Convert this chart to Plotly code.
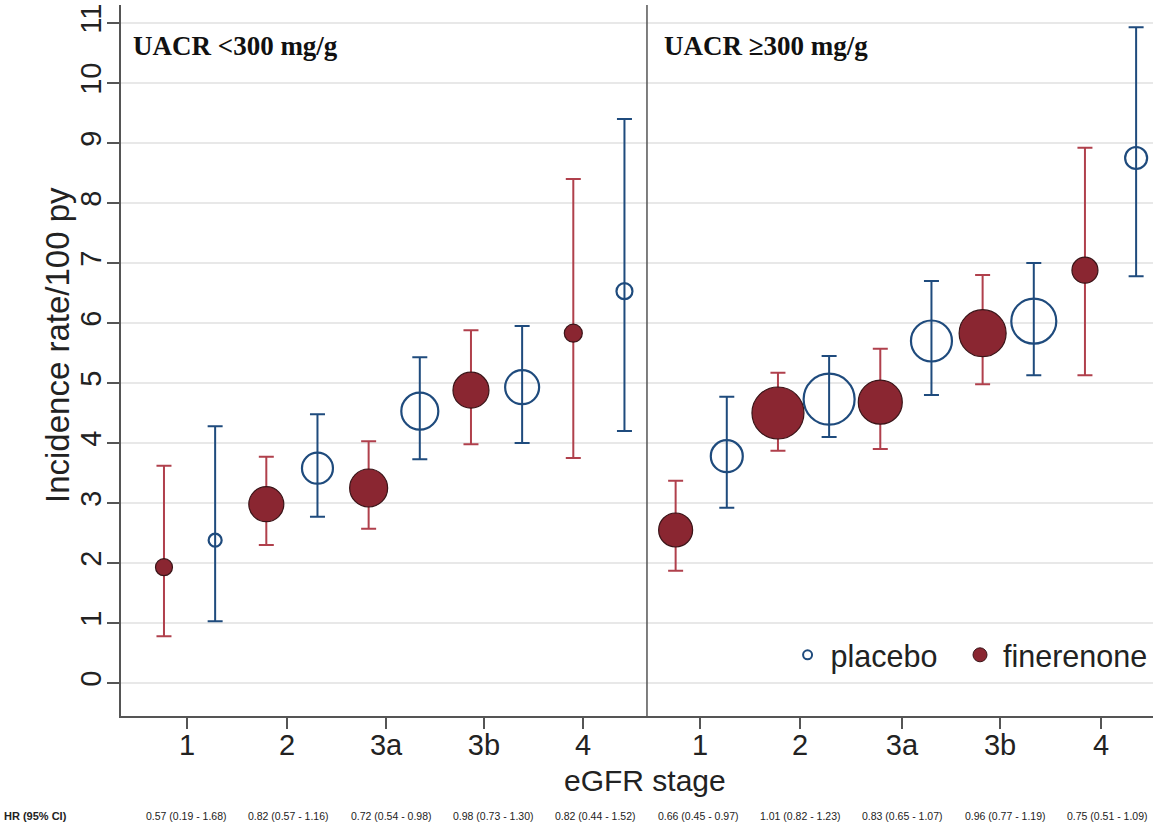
import plotly.graph_objects as go

# ---------------- data ----------------
stages = ["1", "2", "3a", "3b", "4"]
panel_titles = ["UACR <300 mg/g", "UACR \u2265300 mg/g"]

# 10 groups: 5 eGFR stages for UACR<300, then 5 for UACR>=300
fin_rate = [1.93, 2.98, 3.25, 4.88, 5.83, 2.55, 4.50, 4.68, 5.83, 6.88]
fin_lo   = [0.78, 2.30, 2.57, 3.98, 3.75, 1.87, 3.87, 3.90, 4.98, 5.13]
fin_hi   = [3.62, 3.77, 4.03, 5.88, 8.40, 3.37, 5.17, 5.57, 6.80, 8.92]
fin_size = [18, 36, 39, 37, 19, 35, 53, 45, 48, 27]

pla_rate = [2.38, 3.58, 4.53, 4.93, 6.53, 3.78, 4.73, 5.70, 6.03, 8.75]
pla_lo   = [1.03, 2.77, 3.73, 4.00, 4.20, 2.92, 4.10, 4.80, 5.13, 6.78]
pla_hi   = [4.28, 4.48, 5.43, 5.95, 9.40, 4.77, 5.45, 6.70, 7.00, 10.93]
pla_size = [15, 33, 39, 36, 18, 34, 53, 43, 47, 24]

hr_text = ["0.57 (0.19 - 1.68)", "0.82 (0.57 - 1.16)", "0.72 (0.54 - 0.98)",
           "0.98 (0.73 - 1.30)", "0.82 (0.44 - 1.52)", "0.66 (0.45 - 0.97)",
           "1.01 (0.82 - 1.23)", "0.83 (0.65 - 1.07)", "0.96 (0.77 - 1.19)",
           "0.75 (0.51 - 1.09)"]

y_ticks = list(range(0, 12))

# ---------------- layout constants ----------------
groups = list(range(1, len(fin_rate) + 1))
OFF = 0.25
tick_pos = [0.975, 1.952, 2.920, 3.877, 4.845, 5.988, 6.965, 7.962, 8.920, 9.907]
divider_x = 5.47

FIN_FILL = "#8A2631"
FIN_EDGE = "#3A1418"
FIN_BAR = "#B0404C"
PLA_COL = "#1F4B7D"
AXIS_COL = "#555555"
SANS = "Arial, Liberation Sans, sans-serif"
SERIF = "Times New Roman, Liberation Serif, serif"

fig = go.Figure()

# placebo
fig.add_trace(go.Scatter(
    x=[g + OFF for g in groups], y=pla_rate, mode="markers", showlegend=False,
    marker=dict(symbol="circle-open", size=[s - 2 for s in pla_size], opacity=1,
                color=PLA_COL, line=dict(width=2.2, color=PLA_COL)),
    error_y=dict(type="data", symmetric=False,
                 array=[h - r for h, r in zip(pla_hi, pla_rate)],
                 arrayminus=[r - l for r, l in zip(pla_rate, pla_lo)],
                 color=PLA_COL, thickness=2, width=7.5),
))
# finerenone
fig.add_trace(go.Scatter(
    x=[g - OFF for g in groups], y=fin_rate, mode="markers", showlegend=False,
    marker=dict(symbol="circle", size=[s - 1 for s in fin_size], opacity=1,
                color=FIN_FILL, line=dict(width=1.2, color=FIN_EDGE)),
    error_y=dict(type="data", symmetric=False,
                 array=[h - r for h, r in zip(fin_hi, fin_rate)],
                 arrayminus=[r - l for r, l in zip(fin_rate, fin_lo)],
                 color=FIN_BAR, thickness=2, width=7.5),
))

# legend entries (two independent legends)
fig.add_trace(go.Scatter(x=[None], y=[None], mode="markers", name="placebo",
                         legend="legend",
                         marker=dict(symbol="circle-open", size=9, color=PLA_COL,
                                     line=dict(width=2, color=PLA_COL))))
fig.add_trace(go.Scatter(x=[None], y=[None], mode="markers", name="finerenone",
                         legend="legend2",
                         marker=dict(symbol="circle", size=14, color=FIN_FILL,
                                     line=dict(width=1, color=FIN_EDGE))))

# panel divider
fig.add_shape(type="line", xref="x", yref="paper", x0=divider_x, x1=divider_x,
              y0=0, y1=1, line=dict(color=AXIS_COL, width=1.5))

# panel titles
for xp, t in zip([0.0098, 0.524], panel_titles):
    fig.add_annotation(text="<b>" + t + "</b>", xref="paper", yref="paper",
                       x=xp, y=0.942, xanchor="left", yanchor="middle",
                       showarrow=False, font=dict(family=SERIF, size=27, color="#111"))

# axis titles
fig.add_annotation(text="Incidence rate/100 py", xref="paper", yref="paper",
                   x=(57 - 121) / 1032, y=(716 - 345) / 711, xanchor="center",
                   yanchor="middle", textangle=-90, showarrow=False,
                   font=dict(family=SANS, size=33, color="#222"))
fig.add_annotation(text="eGFR stage", xref="paper", yref="paper",
                   x=(645 - 121) / 1032, y=(716 - 780) / 711, xanchor="center",
                   yanchor="middle", showarrow=False,
                   font=dict(family=SANS, size=30, color="#222"))

# HR row
fig.add_annotation(text="<b>HR (95% CI)</b>", xref="paper", yref="paper",
                   x=(2 - 121) / 1032, y=(716 - 816) / 711, xanchor="left",
                   yanchor="middle", showarrow=False,
                   font=dict(family=SANS, size=11, color="#222"))
for g, t in zip(groups, hr_text):
    fig.add_annotation(text=t, xref="x", yref="paper", x=g - 0.03,
                       y=(716 - 816) / 711, xanchor="center", yanchor="middle",
                       showarrow=False, font=dict(family=SANS, size=10.5, color="#222"))

legend_common = dict(orientation="h", yanchor="middle",
                     bgcolor="rgba(0,0,0,0)", font=dict(size=30.5, color="#222"),
                     itemwidth=36)

fig.update_layout(
    width=1160, height=825,
    margin=dict(l=121, r=7, t=5, b=109),
    paper_bgcolor="white", plot_bgcolor="white",
    font=dict(family=SANS, color="#222"),
    legend=dict(x=0.643, xanchor="left", y=(716 - 655) / 711, **legend_common),
    legend2=dict(x=1.0, xanchor="right", y=(716 - 655) / 711, **legend_common),
    xaxis=dict(range=[0.33, 10.415], tickmode="array", tickvals=tick_pos,
               ticktext=stages + stages, ticks="outside", ticklen=11,
               tickcolor=AXIS_COL, tickwidth=1.5, showline=True,
               linecolor=AXIS_COL, linewidth=1.5, showgrid=False, zeroline=False,
               tickfont=dict(size=29, color="#222"), automargin=False,
               ticklabelstandoff=-9),
    yaxis=dict(range=[-0.55, 11.3], tickmode="array", tickvals=y_ticks,
               ticks="outside", ticklen=12, tickcolor=AXIS_COL, tickwidth=1.5,
               tickangle=-90, showline=True, linecolor=AXIS_COL, linewidth=1.5,
               showgrid=True, gridcolor="#E8E8E8", gridwidth=1.5, zeroline=False,
               tickfont=dict(size=29, color="#222"), automargin=False,
               ticklabelstandoff=-5),
)

fig.write_html("out.html", config={"displayModeBar": False},
               post_script="document.body.style.margin='0px';")
